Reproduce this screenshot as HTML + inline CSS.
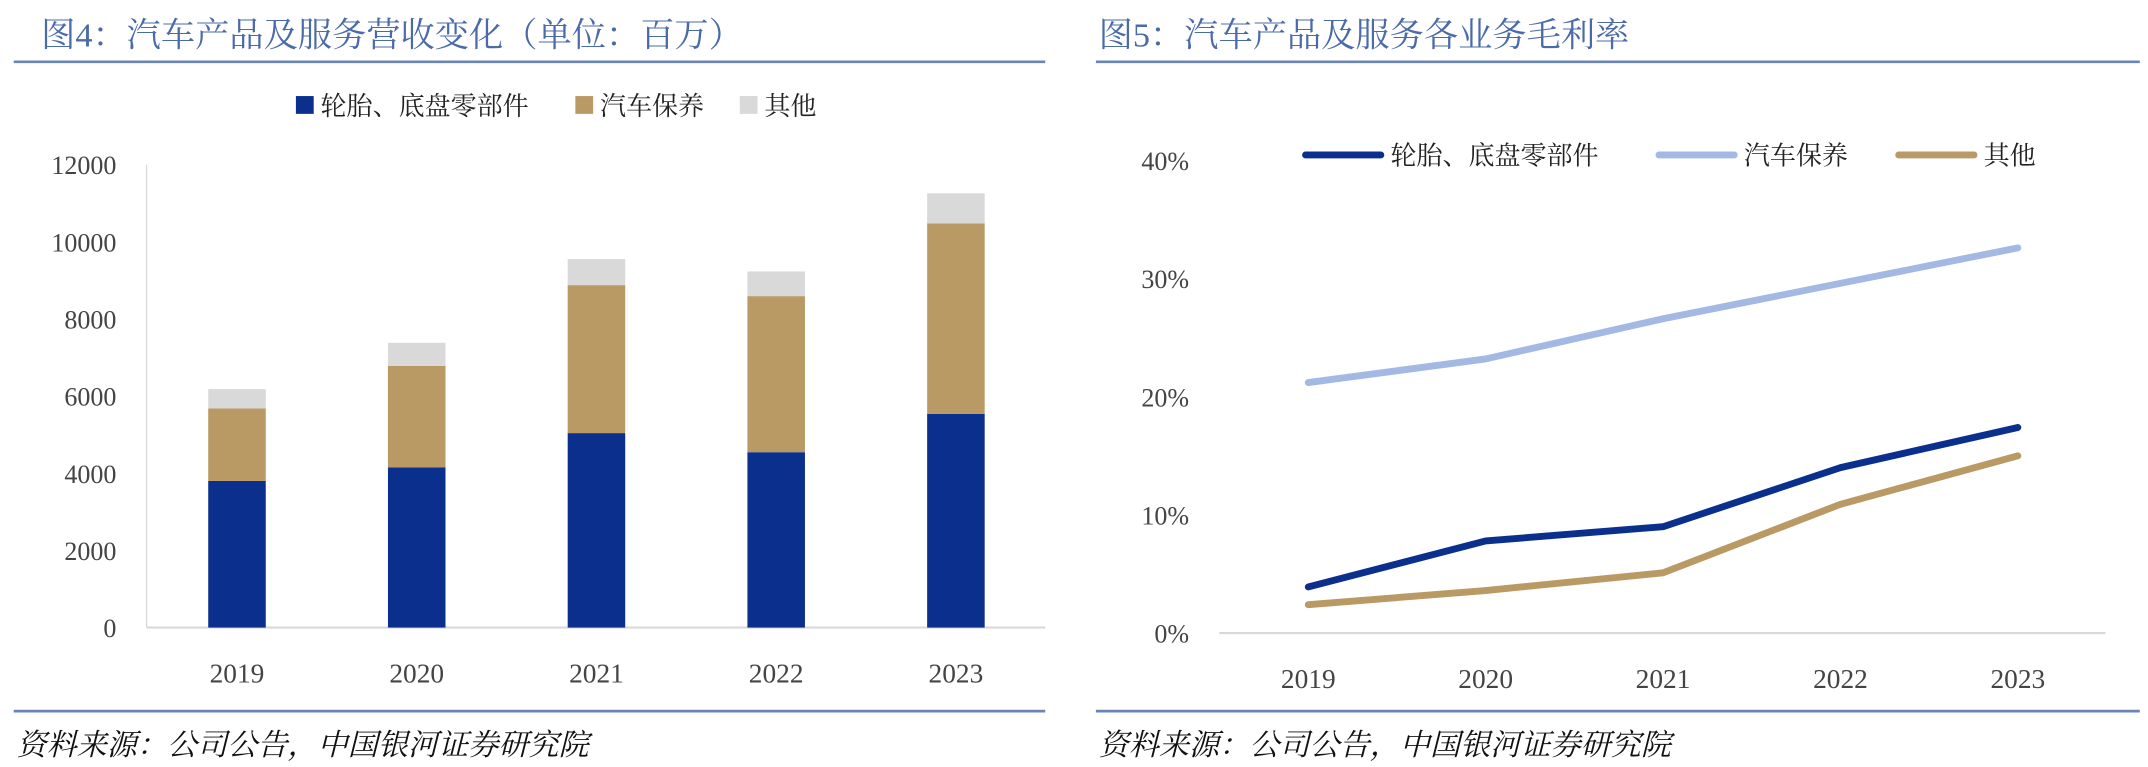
<!DOCTYPE html>
<html><head><meta charset="utf-8"><style>
body{margin:0;background:#fff;width:2148px;height:762px;overflow:hidden;font-family:"Liberation Serif","Noto Serif CJK SC",serif}
svg text{font-family:"Liberation Serif","Noto Serif CJK SC",serif}
</style></head><body>
<svg width="2148" height="762" viewBox="0 0 1568 556">
<text x="30" y="34" font-size="25" fill="#4a6aa8">图4：汽车产品及服务营收变化（单位：百万）</text>
<line x1="10" y1="45" x2="763" y2="45" stroke="#6b84b8" stroke-width="2"/>
<text x="802" y="34" font-size="25" fill="#4a6aa8">图5：汽车产品及服务各业务毛利率</text>
<line x1="800" y1="45" x2="1562" y2="45" stroke="#6b84b8" stroke-width="2"/>
<line x1="10" y1="519" x2="763" y2="519" stroke="#6b84b8" stroke-width="2"/>
<line x1="800" y1="519" x2="1562" y2="519" stroke="#6b84b8" stroke-width="2"/>
<text x="12" y="551" font-size="22" font-style="italic" fill="#111">资料来源：公司公告，中国银河证券研究院</text>
<text x="802" y="551" font-size="22" font-style="italic" fill="#111">资料来源：公司公告，中国银河证券研究院</text>
<g id="left"></g>
<g id="right"></g>
</svg>
<script>
const years=["2019","2020","2021","2022","2023"];
const tireParts=[3800,4150,5040,4545,5540];
const carCare=[1880,2630,3835,4045,4935];
const others=[500,600,675,640,780];
const barTicks=[0,2000,4000,6000,8000,10000,12000];
const seriesNames=["轮胎、底盘零部件","汽车保养","其他"];
const marginTire=[3.9,7.8,9.0,14.0,17.4];
const marginCare=[21.2,23.2,26.6,29.6,32.6];
const marginOther=[2.4,3.6,5.1,10.9,15.0];
const pctTicks=[0,10,20,30,40];

const NS="http://www.w3.org/2000/svg";
function mk(tag,attrs,parent,txt){const e=document.createElementNS(NS,tag);for(const k in attrs)e.setAttribute(k,attrs[k]);if(txt!=null)e.textContent=txt;parent.appendChild(e);return e;}

const L=document.getElementById('left');
const ly=v=>458-v*(338/12000);
const lx=i=>173+i*131.2;
mk('line',{x1:107,y1:120,x2:107,y2:458,stroke:'#d9d9d9','stroke-width':1},L);
mk('line',{x1:107,y1:458,x2:763,y2:458,stroke:'#d9d9d9','stroke-width':1.5},L);
barTicks.forEach(t=>{const e=mk('text',{x:85,y:ly(t)+7,'font-size':19,'text-anchor':'end',fill:'#444'},L,t);

});
const colors=['#0a2f8c','#b99964','#d9d9d9'];
years.forEach((y,i)=>{
  const vals=[tireParts[i],carCare[i],others[i]];let base=0;
  vals.forEach((v,s)=>{const r=mk('rect',{x:lx(i)-21,y:ly(base+v),width:42,height:ly(base)-ly(base+v),fill:colors[s]},L);
  
  
  base+=v;});
  const t=mk('text',{x:lx(i),y:498,'font-size':20,'text-anchor':'middle',fill:'#444'},L,y);
  
  
});
const lgX=[216,420,540];
seriesNames.forEach((n,s)=>{
  const g=mk('g',{},L);
  
  
  mk('rect',{x:lgX[s],y:70,width:13,height:13,fill:colors[s]},g);
  mk('text',{x:lgX[s]+18,y:84,'font-size':19,fill:'#222'},g,n);
});

const R=document.getElementById('right');
const ry=v=>462-v*(345/40);
const rx=i=>955+i*129.5;
mk('line',{x1:890,y1:462,x2:1537,y2:462,stroke:'#d9d9d9','stroke-width':1.5},R);
pctTicks.forEach(t=>{const e=mk('text',{x:868,y:ry(t)+7,'font-size':19,'text-anchor':'end',fill:'#444'},R,t+'%');

});
years.forEach((y,i)=>{const t=mk('text',{x:rx(i),y:502,'font-size':20,'text-anchor':'middle',fill:'#444'},R,y);

});
const lcol=['#0a2f8c','#a4b8e4','#b99964'];
[marginTire,marginCare,marginOther].forEach((arr,s)=>{
  const p=mk('polyline',{points:arr.map((v,i)=>rx(i)+','+ry(v)).join(' '),fill:'none',stroke:lcol[s],'stroke-width':5,'stroke-linecap':'round','stroke-linejoin':'round'},R);
  
  
});
const rlx=[953,1211,1386];
seriesNames.forEach((n,s)=>{
  const g=mk('g',{},R);
  
  
  mk('line',{x1:rlx[s],y1:113,x2:rlx[s]+55,y2:113,stroke:lcol[s],'stroke-width':5,'stroke-linecap':'round'},g);
  mk('text',{x:rlx[s]+62,y:120,'font-size':19,fill:'#222'},g,n);
});
</script>
</body></html>
